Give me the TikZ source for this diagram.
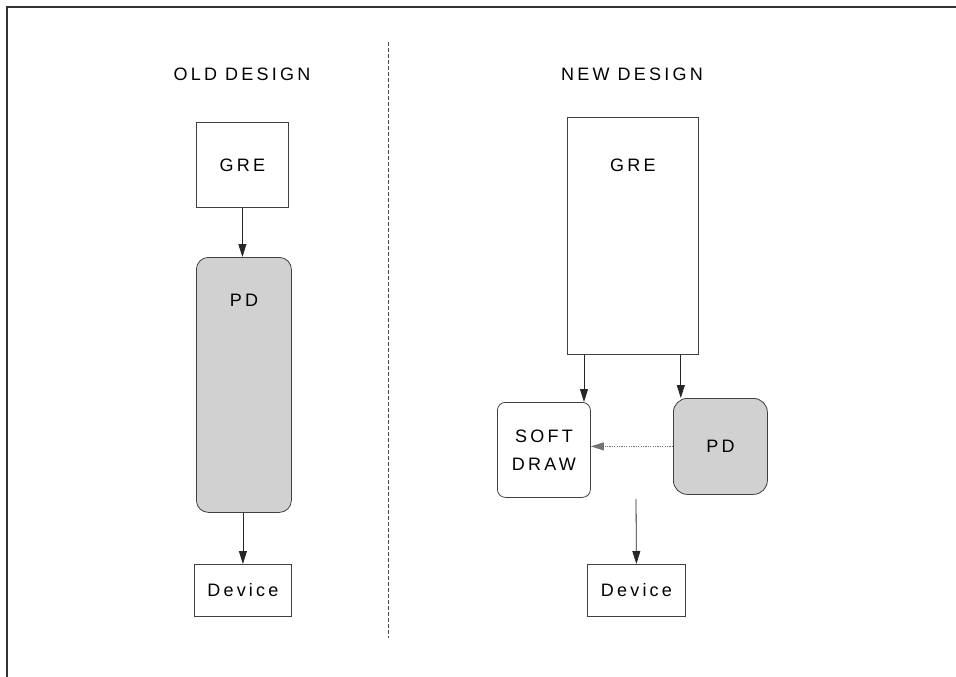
\documentclass[tikz,border=0pt]{standalone}
\usepackage{fontspec}
\usetikzlibrary{arrows.meta}
\newfontfamily\lblfont[LetterSpace=18]{Liberation Sans}
\begin{document}
\begin{tikzpicture}[x=1pt,y=-1pt,
  box/.style={draw=black!75, line width=0.8pt, inner sep=0pt, anchor=north west, font=\lblfont\fontsize{18}{28}\selectfont, align=center},
  pdbox/.style={box, fill=black!18},
  lbl/.style={font=\lblfont\fontsize{18}{28}\selectfont, inner sep=0pt, anchor=center},
  arr/.style={-{Triangle[length=13pt,width=8pt]}, line width=0.8pt, draw=black!85},
  dotarr/.style={arr, draw=black!55, dash pattern=on 1.2pt off 1.2pt}
]
\useasboundingbox (0,0) rectangle (956,677);
% frame
\coordinate (fbl) at (7,677);
\coordinate (ftl) at (7,7);
\coordinate (ftr) at (956,7);
\draw[line width=2pt, black!80] (fbl) -- (ftl) -- (ftr);
% divider
\coordinate (dvt) at (388,42);
\coordinate (dvb) at (388,638);
\draw[black!70, line width=0.6pt, dash pattern=on 4pt off 2pt] (dvt) -- (dvb);
% headings
\node[lbl] (oldh) at (242,74) {OLD DESIGN};
\node[lbl] (newh) at (632,74) {NEW DESIGN};
% old design
\node[box, minimum width=92pt, minimum height=85pt] (ogre) at (196,122) {GRE};
\node[pdbox, rounded corners=12pt, minimum width=95pt, minimum height=255pt,
      label={[lbl, yshift=-43pt]north:PD}] (opd) at (196,257) {};
\node[box, minimum width=97pt, minimum height=52pt] (odev) at (194,564) {Device};
\draw[arr] (ogre.south) -- (ogre.south |- opd.north);
\draw[arr] (odev.north |- opd.south) -- (odev.north);
% new design
\node[box, minimum width=131pt, minimum height=237pt,
      label={[lbl, yshift=-48pt]north:GRE}] (ngre) at (567,117) {};
\node[box, rounded corners=8pt, minimum width=93pt, minimum height=95pt] (sd) at (497,402) {SOFT\\DRAW};
\node[pdbox, rounded corners=14pt, minimum width=94pt, minimum height=96pt] (npd) at (673,398) {PD};
\node[box, minimum width=98pt, minimum height=52pt] (ndev) at (587,564) {Device};
\draw[arr] ([xshift=17pt]ngre.south west) -- ([xshift=17pt]ngre.south west |- sd.north);
\draw[arr] ([xshift=-18pt]ngre.south east) -- ([xshift=-18pt]ngre.south east |- npd.north);
\draw[dotarr] (npd.west) -- (npd.west -| sd.east);
\coordinate (dstart) at (636,499);
\draw[arr] (dstart) -- (ndev.north);
\end{tikzpicture}
\end{document}
